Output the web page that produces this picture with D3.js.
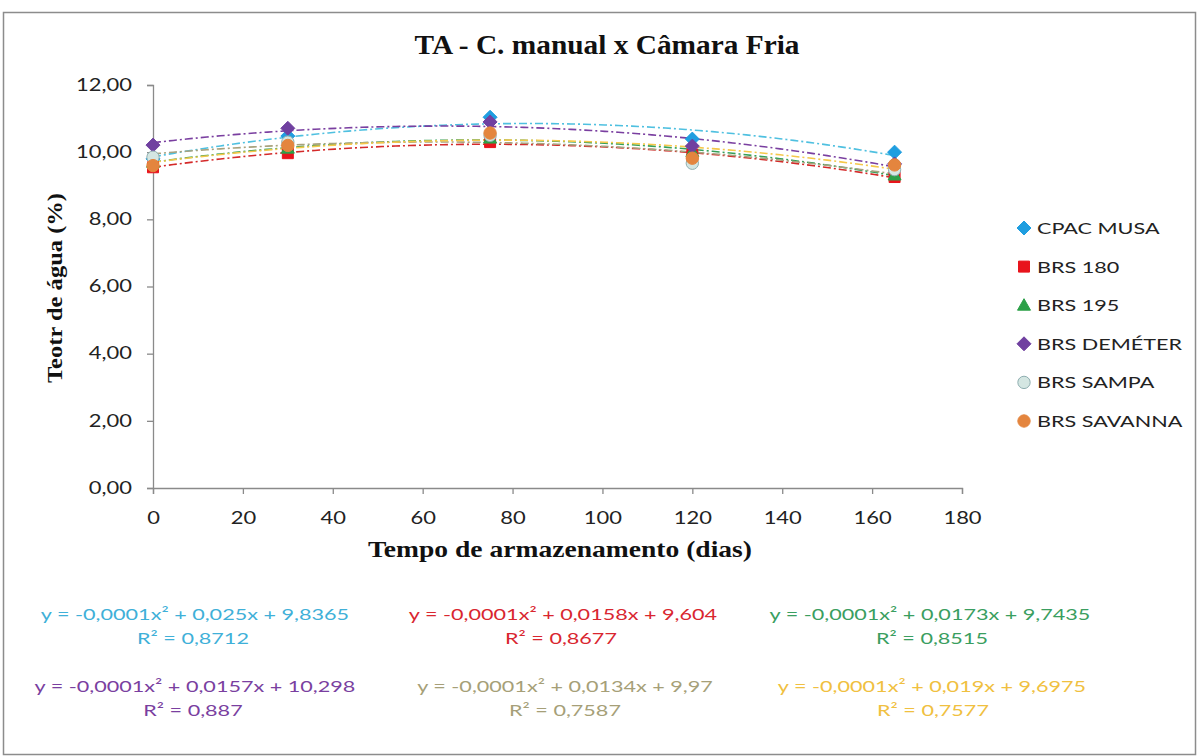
<!DOCTYPE html>
<html>
<head>
<meta charset="utf-8">
<script src="https://cdn.jsdelivr.net/npm/d3@7"></script>
<style>
  html, body { margin: 0; padding: 0; background: #ffffff; }
  svg { display: block; }
</style>
</head>
<body>
<svg id="chart" width="1200" height="756"></svg>
<script>
// Storage time (days)
const days = [0, 30, 75, 120, 165];

// Water content (%) per cultivar
const cpacMusa   = [9.80, 10.48, 11.04, 10.39, 10.00];
const brs180     = [9.55, 9.97, 10.30, 9.92, 9.26];
const brs195     = [9.70, 10.12, 10.42, 10.02, 9.32];
const brsDemeter = [10.21, 10.71, 10.90, 10.18, 9.65];
const brsSampa   = [9.85, 10.30, 10.50, 9.67, 9.48];
const brsSavanna = [9.60, 10.20, 10.57, 9.82, 9.62];

const seriesNames = ["CPAC MUSA", "BRS 180", "BRS 195", "BRS DEMÉTER", "BRS SAMPA", "BRS SAVANNA"];

// Trendline labels
const equations = [
  "y = -0,0001x² + 0,025x + 9,8365",
  "y = -0,0001x² + 0,0158x + 9,604",
  "y = -0,0001x² + 0,0173x + 9,7435",
  "y = -0,0001x² + 0,0157x + 10,298",
  "y = -0,0001x² + 0,0134x + 9,97",
  "y = -0,0001x² + 0,019x + 9,6975"
];
const rSquared = ["R² = 0,8712", "R² = 0,8677", "R² = 0,8515", "R² = 0,887", "R² = 0,7587", "R² = 0,7577"];

const yTicks = [0, 2, 4, 6, 8, 10, 12];
const xTicks = [0, 20, 40, 60, 80, 100, 120, 140, 160, 180];

const styles = [
  { shape: "diamond", fill: "#1f9ee0", stroke: "#1f9ee0", trend: "#4fc0e0", text: "#3fb0d8" },
  { shape: "square", fill: "#e8141c", stroke: "#e8141c", trend: "#d42a2a", text: "#d9262f" },
  { shape: "triangle", fill: "#2ca048", stroke: "#2ca048", trend: "#35a05a", text: "#3a9e60" },
  { shape: "diamond", fill: "#7040a0", stroke: "#7040a0", trend: "#7a3fa0", text: "#7a3fa0" },
  { shape: "circle", fill: "#d4e6e2", stroke: "#8eaeb0", trend: "#a8a27e", text: "#a69f78" },
  { shape: "circle", fill: "#e4853e", stroke: "#e4853e", trend: "#f5c84a", text: "#f0c040" }
];

const allSeries = [cpacMusa, brs180, brs195, brsDemeter, brsSampa, brsSavanna].map((vals, i) => ({
  name: seriesNames[i],
  points: days.map((d, j) => ({ x: d, y: vals[j] })),
  style: styles[i]
}));

const svg = d3.select("#chart");

// Horizontal text in this chart is set wide; widen glyphs by a factor
function widen(sel, f) {
  sel.each(function () {
    const L = this.getComputedTextLength();
    d3.select(this).attr("textLength", L * f).attr("lengthAdjust", "spacingAndGlyphs");
  });
}
function fitTo(sel, w) {
  sel.attr("textLength", w).attr("lengthAdjust", "spacingAndGlyphs");
}

// Chart frame
svg.append("rect")
  .attr("x", 3.5).attr("y", 12.5)
  .attr("width", 1192).attr("height", 742)
  .attr("fill", "#fff").attr("stroke", "#8c8c8c").attr("stroke-width", 1.5);

const plot = { left: 153, right: 962, top: 85, bottom: 488 };
const x = d3.scaleLinear().domain([0, 180]).range([plot.left, plot.right]);
const y = d3.scaleLinear().domain([0, 12]).range([plot.bottom, plot.top]);

const fmt = v => d3.format(".2f")(v).replace(".", ",");
const sansFont = "Lato, 'Liberation Sans', sans-serif";
const serifFont = "'Liberation Serif', 'Times New Roman', serif";

// Y axis
const yAxis = svg.append("g")
  .attr("transform", `translate(${plot.left},0)`)
  .call(d3.axisLeft(y).tickValues(yTicks).tickFormat(fmt).tickSize(6).tickPadding(15));
yAxis.selectAll("path, line").attr("stroke", "#8a8a8a").attr("stroke-width", 1.3);
yAxis.selectAll("text").attr("font-family", sansFont).attr("font-size", 16.5).attr("fill", "#222").call(widen, 1.33);

// X axis
const xAxis = svg.append("g")
  .attr("transform", `translate(0,${plot.bottom})`)
  .call(d3.axisBottom(x).tickValues(xTicks).tickFormat(d3.format("d")).tickSize(6).tickPadding(18));
xAxis.selectAll("path, line").attr("stroke", "#8a8a8a").attr("stroke-width", 1.3);
xAxis.selectAll("text").attr("font-family", sansFont).attr("font-size", 16.5).attr("fill", "#222").call(widen, 1.33);

// Least-squares quadratic trend for each series
function quadFit(pts) {
  let s = [0, 0, 0, 0, 0], t = [0, 0, 0];
  pts.forEach(p => {
    for (let k = 0; k <= 4; k++) s[k] += Math.pow(p.x, k);
    for (let k = 0; k <= 2; k++) t[k] += Math.pow(p.x, k) * p.y;
  });
  const A = [[s[0], s[1], s[2], t[0]], [s[1], s[2], s[3], t[1]], [s[2], s[3], s[4], t[2]]];
  for (let i = 0; i < 3; i++) {
    for (let r = i + 1; r < 3; r++) {
      const f = A[r][i] / A[i][i];
      for (let c = i; c < 4; c++) A[r][c] -= f * A[i][c];
    }
  }
  const c = [0, 0, 0];
  for (let i = 2; i >= 0; i--) {
    let v = A[i][3];
    for (let k = i + 1; k < 3; k++) v -= A[i][k] * c[k];
    c[i] = v / A[i][i];
  }
  return xv => c[0] + c[1] * xv + c[2] * xv * xv;
}

const line = d3.line().x(d => x(d.x)).y(d => y(d.y));
const trendG = svg.append("g");
const markerG = svg.append("g");

allSeries.forEach(s => {
  const f = quadFit(s.points);
  const xs = d3.range(0, 165.01, 1.5);
  trendG.append("path")
    .datum(xs.map(v => ({ x: v, y: f(v) })))
    .attr("d", line)
    .attr("fill", "none")
    .attr("stroke", s.style.trend)
    .attr("stroke-width", 1.6)
    .attr("stroke-dasharray", "8,3,2,3");
});

// Marker outlines
const markerPath = {
  diamond: "M0,-7L7,0L0,7L-7,0Z",
  square: "M-5.5,-5.5H5.5V5.5H-5.5Z",
  triangle: "M0,-6.5L6.5,5L-6.5,5Z",
  circle: d3.symbol().type(d3.symbolCircle).size(120)()
};

function drawMarker(g, shape, cx, cy, st) {
  return g.append("path")
    .attr("d", markerPath[shape])
    .attr("transform", `translate(${cx},${cy})`)
    .attr("fill", st.fill)
    .attr("stroke", st.stroke)
    .attr("stroke-width", 1);
}

allSeries.forEach(s => {
  s.points.forEach(p => drawMarker(markerG, s.style.shape, x(p.x), y(p.y), s.style));
});

// Title
svg.append("text")
  .attr("x", 607).attr("y", 54)
  .attr("text-anchor", "middle")
  .attr("font-family", serifFont)
  .attr("font-weight", "bold").attr("font-size", 27)
  .attr("fill", "#111")
  .text("TA - C. manual x Câmara Fria")
  .call(fitTo, 385);

// Axis titles
svg.append("text")
  .attr("transform", `translate(62,288) rotate(-90)`)
  .attr("text-anchor", "middle")
  .attr("font-family", serifFont)
  .attr("font-weight", "bold").attr("font-size", 20)
  .attr("fill", "#111")
  .text("Teotr de água (%)")
  .call(fitTo, 190);

svg.append("text")
  .attr("x", 560).attr("y", 557)
  .attr("text-anchor", "middle")
  .attr("font-family", serifFont)
  .attr("font-weight", "bold").attr("font-size", 23)
  .attr("fill", "#111")
  .text("Tempo de armazenamento (dias)")
  .call(fitTo, 384);

// Legend
const legend = svg.append("g");
allSeries.forEach((s, i) => {
  const ly = 228 + i * 38.6;
  drawMarker(legend, s.style.shape, 1024, ly, s.style);
  legend.append("text")
    .attr("x", 1037).attr("y", ly + 6)
    .attr("font-family", sansFont).attr("font-size", 16)
    .attr("fill", "#222")
    .text(s.name)
    .call(widen, 1.35);
});

// Trend equations
const eqCenters = [[195, 193], [563, 561], [930, 932], [195, 193], [565, 565], [932, 933]];
const eqRows = [614, 614, 614, 686, 686, 686];
equations.forEach((eq, i) => {
  const g = svg.append("g").attr("font-family", sansFont).attr("font-size", 16).attr("fill", styles[i].text);
  g.append("text").attr("x", eqCenters[i][0]).attr("y", eqRows[i] + 6).attr("text-anchor", "middle").text(eq).call(widen, 1.35);
  g.append("text").attr("x", eqCenters[i][1]).attr("y", eqRows[i] + 30).attr("text-anchor", "middle").text(rSquared[i]).call(widen, 1.35);
});
</script>
</body>
</html>
